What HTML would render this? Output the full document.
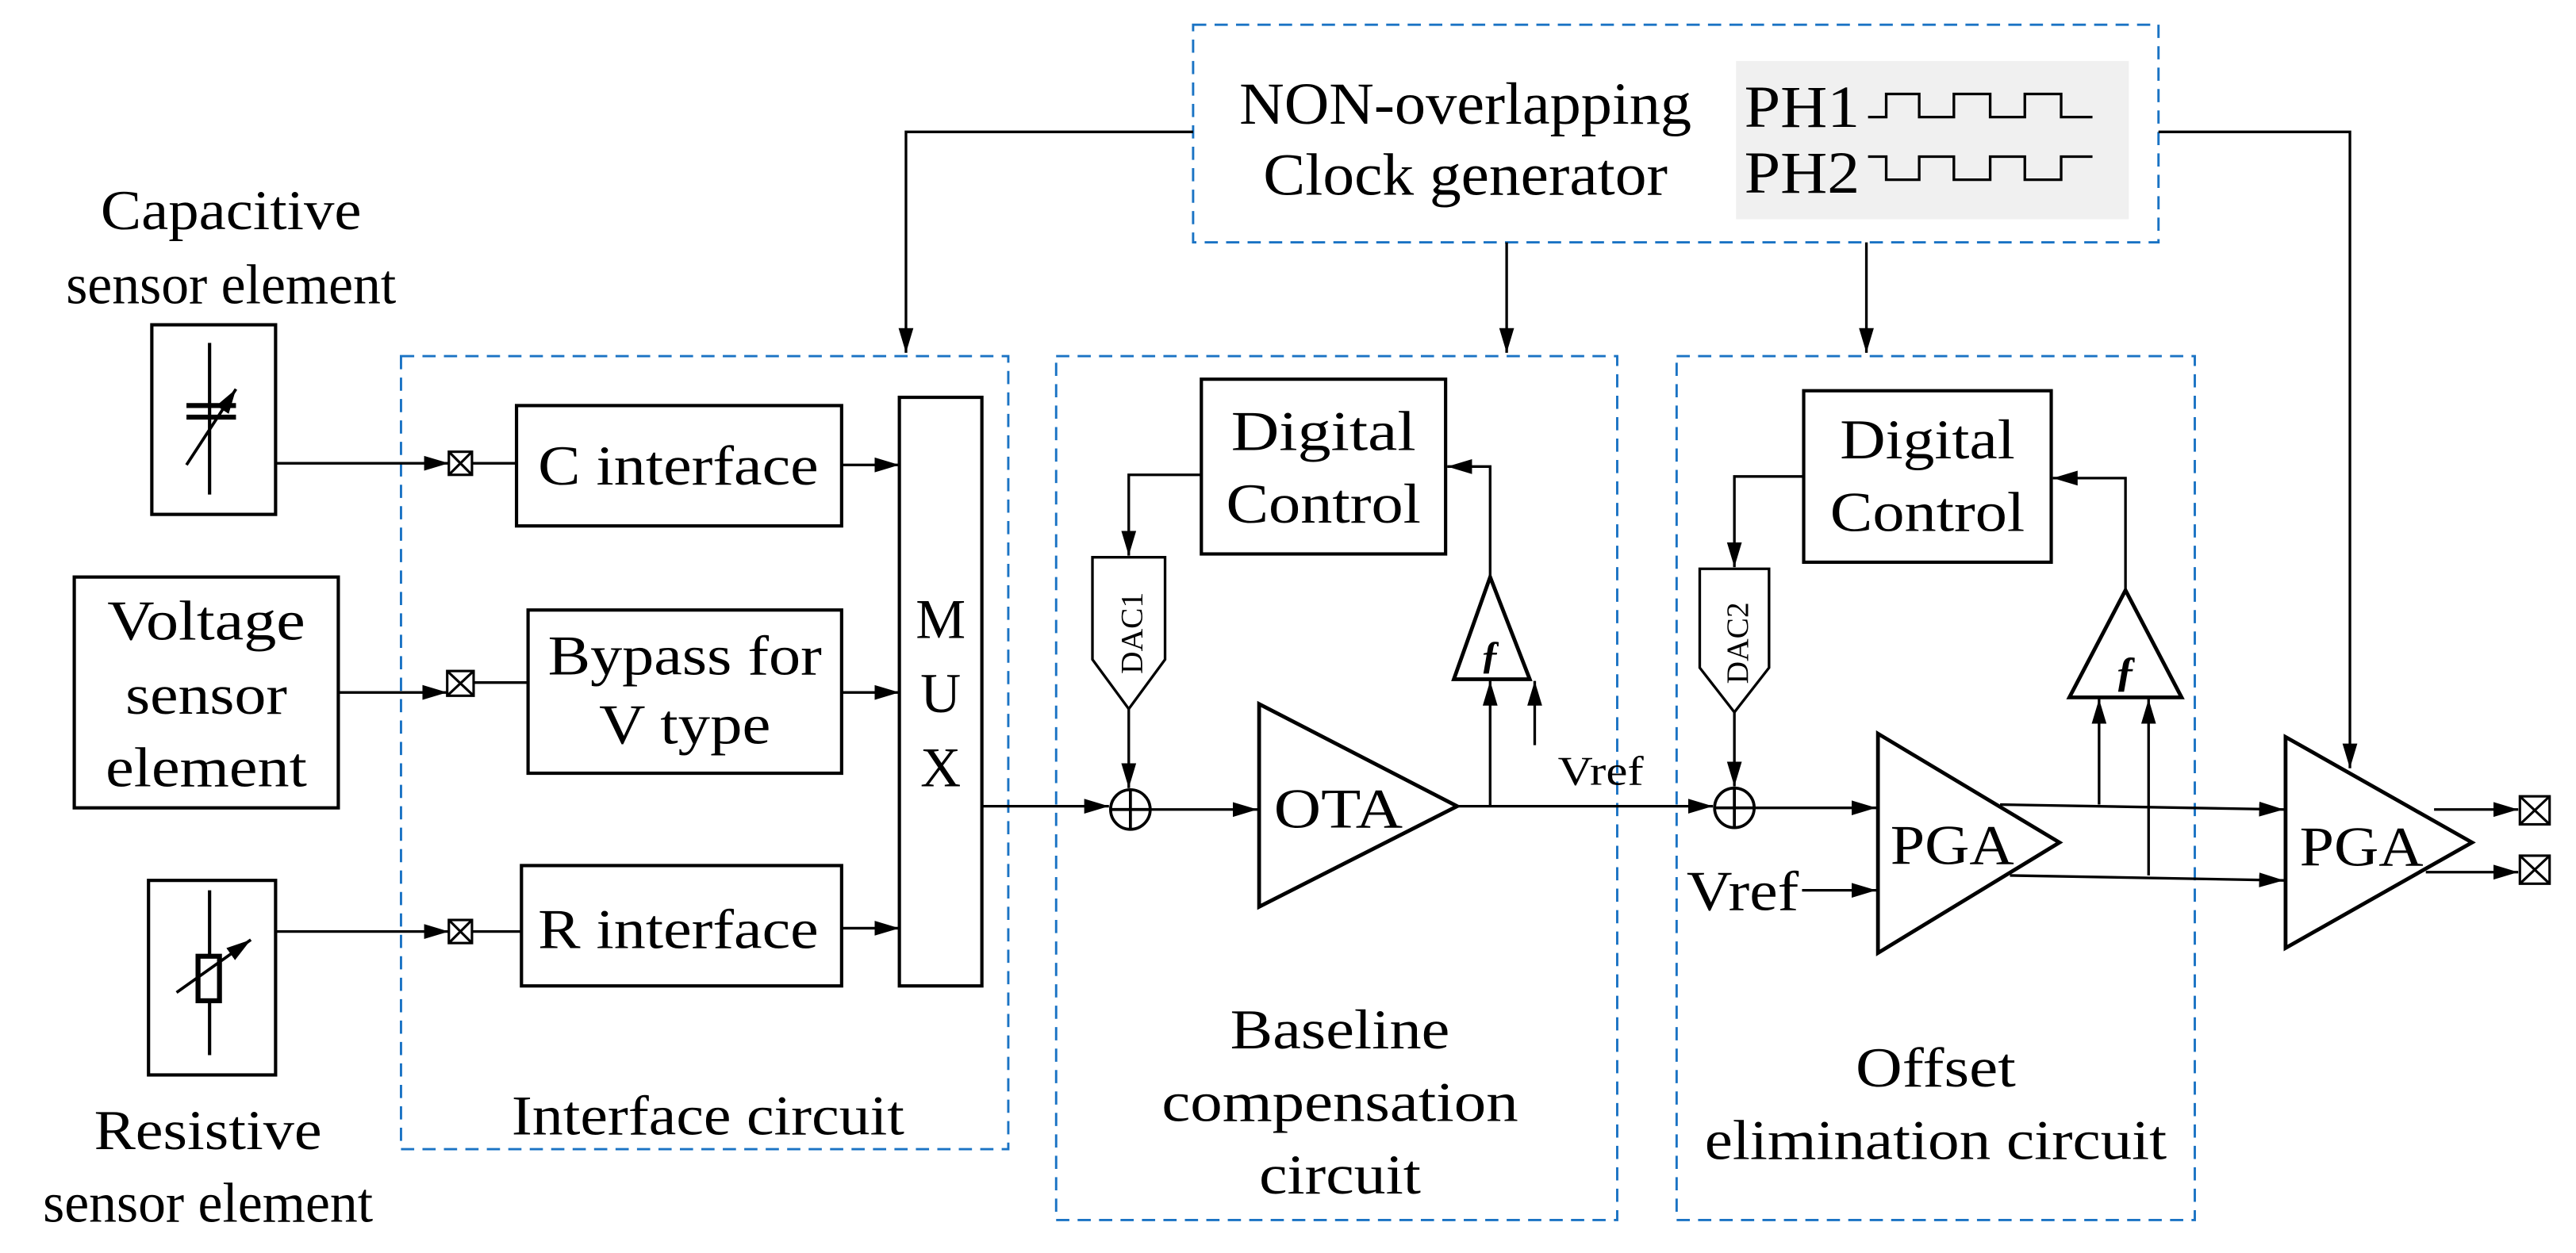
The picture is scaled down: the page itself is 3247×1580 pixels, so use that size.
<!DOCTYPE html>
<html><head><meta charset="utf-8"><style>
html,body{margin:0;padding:0;background:#fff;}
svg{display:block;}
text{font-family:"Liberation Serif",serif;fill:#000;}
</style></head><body>
<svg width="3247" height="1580" viewBox="0 0 1561 760" preserveAspectRatio="none" xmlns="http://www.w3.org/2000/svg">
<defs>
<marker id="a" markerUnits="userSpaceOnUse" markerWidth="16" markerHeight="10" refX="15" refY="5" orient="auto">
<path d="M0,0.5 L15,5 L0,9.5 Z" fill="#000"/>
</marker>
</defs>
<g fill="none" stroke="#1a73c4" stroke-width="1.4" stroke-dasharray="8,5">
<rect x="723" y="15" width="585" height="132"/>
<rect x="243" y="216" width="368" height="481"/>
<rect x="640" y="216" width="340" height="524"/>
<rect x="1016" y="216" width="314" height="524"/>
</g>
<rect x="1052" y="37" width="238" height="96" fill="#f0f0f0"/>
<g font-size="36" text-anchor="middle">
<text x="888" y="75" textLength="274" lengthAdjust="spacingAndGlyphs">NON-overlapping</text>
<text x="888" y="118" textLength="245" lengthAdjust="spacingAndGlyphs">Clock generator</text>
</g>
<g font-size="36">
<text x="1057" y="77" textLength="70" lengthAdjust="spacingAndGlyphs">PH1</text>
<text x="1057" y="117" textLength="70" lengthAdjust="spacingAndGlyphs">PH2</text>
</g>
<g fill="none" stroke="#000" stroke-width="1.6">
<path d="M1132,71 H1143 V57 H1163 V71 H1184 V57 H1206 V71 H1227 V57 H1249 V71 H1268"/>
<path d="M1132,95 H1143 V109 H1163 V95 H1184 V109 H1206 V95 H1227 V109 H1249 V95 H1268"/>
</g>
<g fill="none" stroke="#000" stroke-width="1.6">
<path d="M723,80 H549 V214" marker-end="url(#a)"/>
<path d="M1308,80 H1424 V466" marker-end="url(#a)"/>
<path d="M913,147 V214" marker-end="url(#a)"/>
<path d="M1131,147 V214" marker-end="url(#a)"/>
</g>
<g font-size="34" text-anchor="middle">
<text x="140" y="139" textLength="158" lengthAdjust="spacingAndGlyphs">Capacitive</text>
<text x="140" y="184" textLength="200" lengthAdjust="spacingAndGlyphs">sensor element</text>
<text x="126" y="697" textLength="138" lengthAdjust="spacingAndGlyphs">Resistive</text>
<text x="126" y="741" textLength="200" lengthAdjust="spacingAndGlyphs">sensor element</text>
<text x="125" y="388" textLength="120" lengthAdjust="spacingAndGlyphs">Voltage</text>
<text x="125" y="433" textLength="98" lengthAdjust="spacingAndGlyphs">sensor</text>
<text x="125" y="477" textLength="122" lengthAdjust="spacingAndGlyphs">element</text>
<text x="411" y="294" textLength="170" lengthAdjust="spacingAndGlyphs">C interface</text>
<text x="415" y="409" textLength="166" lengthAdjust="spacingAndGlyphs">Bypass for</text>
<text x="415" y="451" textLength="104" lengthAdjust="spacingAndGlyphs">V type</text>
<text x="411" y="575" textLength="170" lengthAdjust="spacingAndGlyphs">R interface</text>
<text x="429" y="688" textLength="238" lengthAdjust="spacingAndGlyphs">Interface circuit</text>
<text x="570" y="387">M</text>
<text x="570" y="432">U</text>
<text x="570" y="477">X</text>
</g>
<g fill="none" stroke="#000" stroke-width="2">
<rect x="92" y="197" width="75" height="115"/>
<rect x="45" y="350" width="160" height="140"/>
<rect x="90" y="534" width="77" height="118"/>
<rect x="313" y="246" width="197" height="73"/>
<rect x="320" y="370" width="190" height="99"/>
<rect x="316" y="525" width="194" height="73"/>
<rect x="545" y="241" width="50" height="357"/>
</g>
<g stroke="#000" fill="none">
<path d="M127,208 V300" stroke-width="2"/>
<path d="M113,246 H143 M113,253 H143" stroke-width="3"/>
<path d="M113,282 L143,236" stroke-width="1.8" marker-end="url(#a)"/>
<path d="M127,540 V640" stroke-width="2"/>
<rect x="120" y="580" width="13" height="27" stroke-width="3" fill="#fff"/>
<path d="M107,602 L152,570" stroke-width="1.8" marker-end="url(#a)"/>
</g>
<g fill="none" stroke="#000" stroke-width="1.6">
<path d="M167,281 H272" marker-end="url(#a)"/>
<path d="M205,420 H271" marker-end="url(#a)"/>
<path d="M167,565 H272" marker-end="url(#a)"/>
<path d="M286,281 H313 M287,414 H320 M286,565 H316"/>
<path d="M510,282 H545" marker-end="url(#a)"/>
<path d="M510,420 H545" marker-end="url(#a)"/>
<path d="M510,563 H545" marker-end="url(#a)"/>
<path d="M595,489 H672" marker-end="url(#a)"/>
</g>
<g fill="#fff" stroke="#000" stroke-width="1.5">
<rect x="272" y="274" width="14" height="14"/><path d="M272,274 L286,288 M286,274 L272,288"/>
<rect x="271" y="407" width="16" height="15"/><path d="M271,407 L287,422 M287,407 L271,422"/>
<rect x="272" y="558" width="14" height="14"/><path d="M272,558 L286,572 M286,558 L272,572"/>
</g>
<g fill="none" stroke="#000" stroke-width="2">
<rect x="728" y="230" width="148" height="106"/>
<rect x="1093" y="237" width="150" height="104"/>
<path d="M662,338 H706 V400 L684,430 L662,400 Z" stroke-width="1.6"/>
<path d="M1030,345 H1072 V405 L1051,432 L1030,405 Z" stroke-width="1.6"/>
<path d="M763,427 L883,489 L763,550 Z" stroke-width="2.3"/>
<path d="M1138,445 L1248,511 L1138,578 Z" stroke-width="2.3"/>
<path d="M1385,447 L1498,511 L1385,575 Z" stroke-width="2.3"/>
<path d="M903,350 L927,412 L881,412 Z" stroke-width="2.3"/>
<path d="M1288,358 L1322,423 L1254,423 Z" stroke-width="2.3"/>
<circle cx="685" cy="491" r="12" stroke-width="1.8"/>
<path d="M673,491 H697 M685,479 V503" stroke-width="1.8"/>
<circle cx="1051" cy="490" r="12" stroke-width="1.8"/>
<path d="M1039,490 H1063 M1051,478 V502" stroke-width="1.8"/>
</g>
<g font-size="34" text-anchor="middle">
<text x="802" y="273" textLength="112" lengthAdjust="spacingAndGlyphs">Digital</text>
<text x="802" y="317" textLength="118" lengthAdjust="spacingAndGlyphs">Control</text>
<text x="1168" y="278" textLength="106" lengthAdjust="spacingAndGlyphs">Digital</text>
<text x="1168" y="322" textLength="118" lengthAdjust="spacingAndGlyphs">Control</text>
<text x="812" y="636" textLength="133" lengthAdjust="spacingAndGlyphs">Baseline</text>
<text x="812" y="680" textLength="216" lengthAdjust="spacingAndGlyphs">compensation</text>
<text x="812" y="724" textLength="98" lengthAdjust="spacingAndGlyphs">circuit</text>
<text x="1173" y="659" textLength="97" lengthAdjust="spacingAndGlyphs">Offset</text>
<text x="1173" y="703" textLength="280" lengthAdjust="spacingAndGlyphs">elimination circuit</text>
<text x="811" y="502" textLength="78" lengthAdjust="spacingAndGlyphs">OTA</text>
<text x="1183" y="524" textLength="75" lengthAdjust="spacingAndGlyphs">PGA</text>
<text x="1431" y="525" textLength="75" lengthAdjust="spacingAndGlyphs">PGA</text>
<text x="1056" y="552" textLength="68" lengthAdjust="spacingAndGlyphs">Vref</text>
</g>
<text x="944" y="476" font-size="25" textLength="52" lengthAdjust="spacingAndGlyphs">Vref</text>
<text transform="translate(692,384) rotate(-90)" font-size="19" text-anchor="middle">DAC1</text>
<text transform="translate(1059,390) rotate(-90)" font-size="19" text-anchor="middle">DAC2</text>
<text x="903" y="405" font-size="24" font-style="italic" font-weight="bold" text-anchor="middle">ƒ</text>
<text x="1288" y="416" font-size="26" font-style="italic" font-weight="bold" text-anchor="middle">ƒ</text>
<g fill="none" stroke="#000" stroke-width="1.6">
<path d="M728,288 H684 V337" marker-end="url(#a)"/>
<path d="M684,430 V478" marker-end="url(#a)"/>
<path d="M697,491 H762" marker-end="url(#a)"/>
<path d="M883,489 H1038" marker-end="url(#a)"/>
<path d="M903,350 V283 H877" marker-end="url(#a)"/>
<path d="M903,489 V413" marker-end="url(#a)"/>
<path d="M930,452 V413" marker-end="url(#a)"/>
<path d="M1093,289 H1051 V344" marker-end="url(#a)"/>
<path d="M1051,432 V477" marker-end="url(#a)"/>
<path d="M1063,490 H1137" marker-end="url(#a)"/>
<path d="M1092,540 H1137" marker-end="url(#a)"/>
<path d="M1288,358 V290 H1244" marker-end="url(#a)"/>
<path d="M1212,488 L1384,491" marker-end="url(#a)"/>
<path d="M1218,531 L1384,534" marker-end="url(#a)"/>
<path d="M1272,488 V424" marker-end="url(#a)"/>
<path d="M1302,531 V424" marker-end="url(#a)"/>
<path d="M1475,491 H1526" marker-end="url(#a)"/>
<path d="M1470,529 H1526" marker-end="url(#a)"/>
</g>
<g fill="#fff" stroke="#000" stroke-width="1.5">
<rect x="1527" y="483" width="18" height="17"/><path d="M1527,483 L1545,500 M1545,483 L1527,500"/>
<rect x="1527" y="519" width="18" height="17"/><path d="M1527,519 L1545,536 M1545,519 L1527,536"/>
</g>
</svg>
</body></html>
